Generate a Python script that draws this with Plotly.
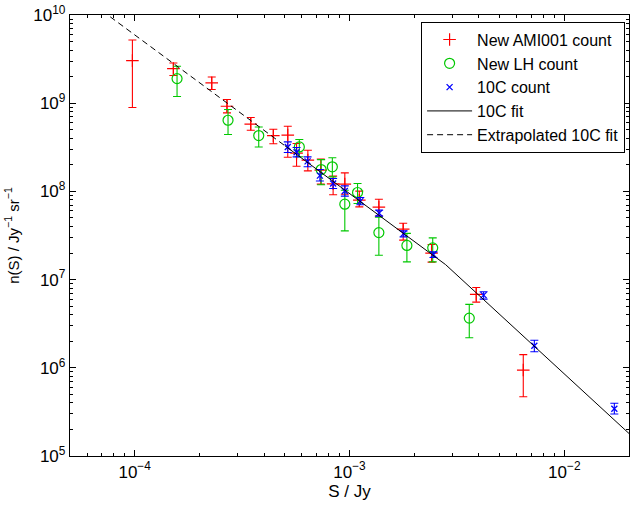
import plotly.graph_objects as go
import numpy as np

# New AMI001 count (red +)
ami_S = [9.76e-5, 1.514e-4, 2.284e-4, 2.69e-4, 3.47e-4, 4.42e-4, 5.16e-4, 5.67e-4, 6.40e-4,
         7.35e-4, 8.39e-4, 9.51e-4, 1.111e-3, 1.370e-3, 1.778e-3, 2.41e-3, 3.89e-3, 6.44e-3]
ami_n = [3.04e9, 2.47e9, 1.70e9, 9.24e8, 5.78e8, 4.28e8, 4.34e8, 2.71e8, 2.26e8,
         1.74e8, 1.22e8, 1.21e8, 7.95e7, 6.63e7, 3.73e7, 2.00e7, 6.80e6, 9.43e5]
ami_hi = [5.21e9, 2.86e9, 1.98e9, 1.10e9, 6.88e8, 5.07e8, 5.48e8, 3.49e8, 2.93e8,
          2.32e8, 1.49e8, 1.62e8, 1.006e8, 8.16e7, 4.36e7, 2.50e7, 8.15e6, 1.41e6]
ami_lo = [8.93e8, 2.06e9, 1.43e9, 7.76e8, 4.94e8, 3.47e8, 2.44e8, 1.93e8, 1.71e8,
          1.21e8, 9.18e7, 9.30e7, 6.68e7, 5.24e7, 2.80e7, 1.58e7, 5.56e6, 4.70e5]

# New LH count (green o)
lh_S = [1.575e-4, 2.72e-4, 3.78e-4, 5.84e-4, 7.38e-4, 8.32e-4, 9.51e-4, 1.090e-3,
        1.370e-3, 1.850e-3, 2.44e-3, 3.61e-3]
lh_n = [1.90e9, 6.41e8, 4.30e8, 3.19e8, 1.77e8, 1.90e8, 7.16e7, 9.72e7,
        3.41e7, 2.44e7, 2.29e7, 3.66e6]
lh_hi = [2.62e9, 8.48e8, 5.38e8, 3.88e8, 2.29e8, 2.41e8, 1.03e8, 1.23e8,
         5.10e7, 3.34e7, 2.97e7, 5.24e6]
lh_lo = [1.19e9, 4.42e8, 3.19e8, 2.47e8, 1.19e8, 1.46e8, 3.57e7, 7.30e7,
         1.89e7, 1.59e7, 1.59e7, 2.19e6]

# 10C count (blue x)
c10_S = [5.16e-4, 5.67e-4, 6.38e-4, 7.28e-4, 8.39e-4, 9.51e-4, 1.123e-3, 1.374e-3,
         1.786e-3, 2.46e-3, 4.21e-3, 7.25e-3, 1.709e-2]
c10_n = [3.19e8, 2.78e8, 2.19e8, 1.51e8, 1.23e8, 1.01e8, 7.75e7, 5.67e7,
         3.32e7, 1.92e7, 6.67e6, 1.78e6, 3.44e5]
c10_hi = [3.64e8, 3.15e8, 2.46e8, 1.77e8, 1.40e8, 1.155e8, 8.53e7, 6.13e7,
          3.57e7, 2.06e7, 7.27e6, 2.05e6, 3.96e5]
c10_lo = [2.76e8, 2.46e8, 1.90e8, 1.31e8, 1.08e8, 8.83e7, 7.07e7, 5.24e7,
          3.05e7, 1.78e7, 6.01e6, 1.52e6, 2.99e5]

# 10C fit (solid) and its extrapolation (dashed)
fit_S = [5e-4, 2.8e-3, 2e-2]
fit_n = [3.3e8, 1.48e7, 1.8e5]
ext_S = [5e-5, 5e-4]
ext_n = [2.07e10, 3.3e8]

x_ticks = [1e-4, 1e-3, 1e-2]
x_ticktext = ["10<sup>\u22124</sup>", "10<sup>\u22123</sup>", "10<sup>\u22122</sup>"]
x_minor = [5e-5, 6e-5, 7e-5, 8e-5, 9e-5,
           2e-4, 3e-4, 4e-4, 5e-4, 6e-4, 7e-4, 8e-4, 9e-4,
           2e-3, 3e-3, 4e-3, 5e-3, 6e-3, 7e-3, 8e-3, 9e-3, 2e-2]
y_ticks = [1e5, 1e6, 1e7, 1e8, 1e9, 1e10]
y_ticktext = ["10<sup>5</sup>", "10<sup>6</sup>", "10<sup>7</sup>", "10<sup>8</sup>",
              "10<sup>9</sup>", "10<sup>10</sup>"]
y_minor = [m * d for d in [1e5, 1e6, 1e7, 1e8, 1e9] for m in range(2, 10)]


def errs(v, hi, lo):
    v = np.array(v); hi = np.array(hi); lo = np.array(lo)
    return hi - v, v - lo


RED = "#ff0000"
GREEN = "#00c800"
BLUE = "#0000ff"

fig = go.Figure()

e_up, e_dn = errs(ami_n, ami_hi, ami_lo)
fig.add_trace(go.Scatter(
    x=ami_S, y=ami_n, mode="markers", name="New AMI001 count",
    marker=dict(symbol="cross-thin-open", size=9, color=RED, line=dict(color=RED, width=1.2)),
    error_y=dict(type="data", symmetric=False, array=e_up, arrayminus=e_dn,
                 color=RED, thickness=1.1, width=4),
))

e_up, e_dn = errs(lh_n, lh_hi, lh_lo)
fig.add_trace(go.Scatter(
    x=lh_S, y=lh_n, mode="markers", name="New LH count",
    marker=dict(symbol="circle-open", size=10, color=GREEN, line=dict(color=GREEN, width=1.2)),
    error_y=dict(type="data", symmetric=False, array=e_up, arrayminus=e_dn,
                 color=GREEN, thickness=1.1, width=4),
))

e_up, e_dn = errs(c10_n, c10_hi, c10_lo)
fig.add_trace(go.Scatter(
    x=c10_S, y=c10_n, mode="markers", name="10C count",
    marker=dict(symbol="x-thin-open", size=6, color=BLUE, line=dict(color=BLUE, width=1.3)),
    error_y=dict(type="data", symmetric=False, array=e_up, arrayminus=e_dn,
                 color=BLUE, thickness=1.1, width=4),
))

fig.add_trace(go.Scatter(
    x=fit_S, y=fit_n, mode="lines", name="10C fit",
    line=dict(color="black", width=1),
))
fig.add_trace(go.Scatter(
    x=ext_S, y=ext_n, mode="lines", name="Extrapolated 10C fit",
    line=dict(color="black", width=1, dash="6px,4px"),
))

font = "Liberation Sans, Arial, Helvetica, sans-serif"
axis_common = dict(
    type="log", showline=True, linecolor="black", linewidth=1.3, mirror="allticks",
    ticks="inside", ticklen=6, tickcolor="black", tickwidth=1,
    showgrid=False, zeroline=False, automargin=False,
    tickfont=dict(family=font, size=17, color="black"),
)

fig.update_xaxes(**axis_common, range=[np.log10(5e-5), np.log10(2e-2)],
                 tickvals=x_ticks, ticktext=x_ticktext,
                 minor=dict(tickvals=x_minor, ticks="inside", ticklen=3,
                            tickcolor="black", tickwidth=1, showgrid=False),
                 title=dict(text="S / Jy", font=dict(family=font, size=17, color="black"), standoff=4))
fig.update_yaxes(**axis_common, range=[5, 10],
                 tickvals=y_ticks, ticktext=y_ticktext,
                 minor=dict(tickvals=y_minor, ticks="inside", ticklen=3,
                            tickcolor="black", tickwidth=1, showgrid=False),
                 title=dict(text="n(S) / Jy<sup>\u22121</sup> sr<sup>\u22121</sup>",
                            font=dict(family=font, size=15, color="black"), standoff=10))

fig.update_layout(
    width=630, height=506,
    margin=dict(l=70, r=1, t=15, b=50, autoexpand=False),
    paper_bgcolor="white", plot_bgcolor="white",
    font=dict(family=font, size=17, color="black"),
    showlegend=True,
    legend=dict(x=0.993, y=0.985, xanchor="right", yanchor="top",
                bgcolor="white", bordercolor="black", borderwidth=1,
                font=dict(family=font, size=16, color="black"),
                tracegroupgap=0, itemwidth=45),
)

fig.write_html("out.html", config={"displayModeBar": False},
               post_script="document.body.style.margin='0px';")
